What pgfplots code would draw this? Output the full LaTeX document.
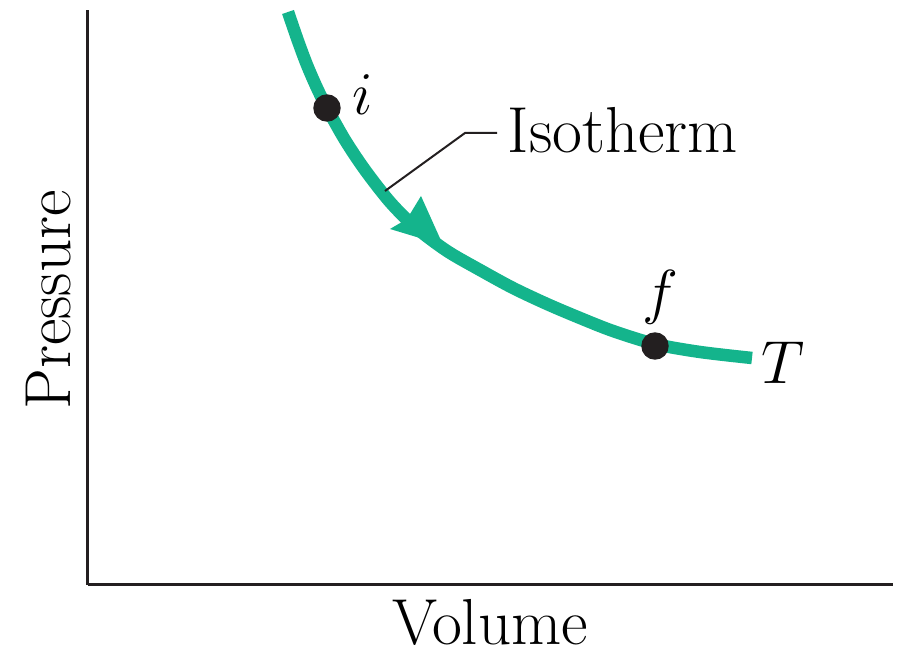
\documentclass[border=0pt]{standalone}
\usepackage{pgfplots}
\pgfplotsset{compat=1.18}
\definecolor{iso}{RGB}{20,180,140}
\definecolor{dot}{RGB}{35,31,32}
\begin{document}
\begin{tikzpicture}[every node/.style={inner sep=0pt}]
\begin{axis}[
    x=0.1mm, y=0.1mm,
    xmin=88, xmax=893, ymin=70, ymax=645,
    axis x line=bottom, axis y line=left,
    axis line style={-, line width=0.3mm, draw=dot},
    ticks=none,
    clip=false,
    font=\fontsize{18.5}{22}\selectfont,
]
% fixes the page to the reference frame
\path (axis cs:0,0) rectangle (axis cs:902,655);

% isotherm (pixel positions, y flipped)
\addplot[iso, line width=1.25mm, smooth, tension=0.5] coordinates {
    (288,643) (298,614) (307,590) (317,567) (327,547) (345,515)
    (365,485) (390,453) (415,428) (447,404) (480,385) (513,367)
    (547,351) (580,337) (613,324) (655,311) (700,303) (752,297)
};
\fill[iso] (axis cs:443,410) -- (axis cs:390,426) -- (axis cs:407,436)
    -- (axis cs:421,459) -- cycle;

% states i and f
\addplot[only marks, mark=*, mark size=3.7pt, color=dot]
    coordinates {(327,547) (655,309)};

\draw[dot, line width=0.2mm] (axis cs:385,464) -- (axis cs:465,522) -- (axis cs:497,522);
\node[anchor=base west] at (axis cs:507,502) {Isotherm};
\node at (axis cs:363,560) {$i$};
\node at (axis cs:660,358) {$f$};
\node at (axis cs:783,292) {$T$};
\node[anchor=base] at (axis cs:490,10) {Volume};
\node[anchor=base, rotate=90] at (axis cs:70,355) {Pressure};
\end{axis}
\end{tikzpicture}
\end{document}
